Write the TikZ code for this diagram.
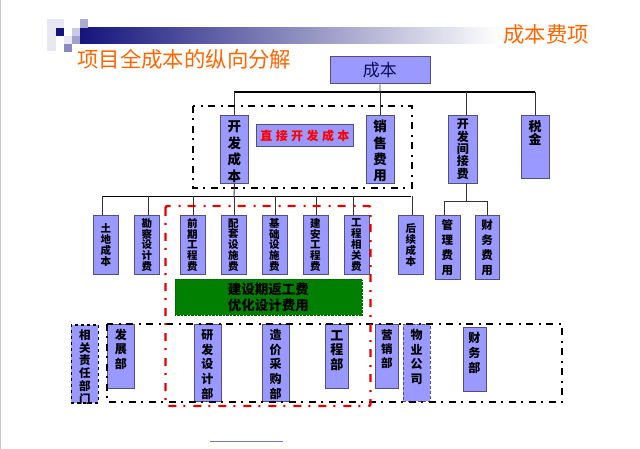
\documentclass[tikz,border=0pt]{standalone}
\usepackage{fontspec}
\setmainfont{Noto Sans CJK SC}
\usepackage{color}
\usepackage{tikz}
\definecolor{boxfill}{HTML}{9999FF}
\definecolor{boxline}{HTML}{50507A}
\definecolor{headnavy}{HTML}{14147C}
\definecolor{headorange}{HTML}{FF6600}
\definecolor{greenfill}{HTML}{007F00}
\tikzset{
  box/.style={rectangle,draw=boxline,fill=boxfill,line width=0.9pt,inner sep=0pt,align=center,anchor=north west,font=\bfseries},
  stack/.style 2 args={font=\bfseries\fontsize{#1}{#2}\selectfont},
  tall/.style 2 args={minimum height=#1,text height=#1-#2,text depth=#2},
  link/.style={black!80,line width=0.9pt},
  bus/.style={black,line width=1.1pt},
  blackframe/.style={black,line width=1.6pt,dash pattern=on 7pt off 5pt on 2pt off 6pt},
  redframe/.style={red!90!black,line width=2.4pt,dash pattern=on 8pt off 7pt on 2pt off 8pt},
  title/.style={headorange,inner sep=0pt,font=\fontsize{21.4}{24}\selectfont}
}

\begin{document}
\begin{tikzpicture}[x=1pt,y=-1pt]
  \useasboundingbox (0,0) rectangle (640,449);
  \fill[black!22] (0,0) rectangle (1.2,449);
  % header
  \shade[left color=headnavy,right color=white] (80,27.3) rectangle (500,43.7);
  \fill[headnavy!10] (47,19) rectangle (55.7,51);
  \fill[headnavy!10] (55.7,19) rectangle (64,27.7);
  \fill[headnavy] (55.7,27.7) rectangle (64,36);
  \fill[headnavy!10] (64,36) rectangle (72,44);
  \fill[headnavy!22] (72,27.7) rectangle (80,36);
  \fill[headnavy!35] (80,19) rectangle (88,27.7);
  \fill[headnavy!40] (72,36) rectangle (80,44);
  \fill[headnavy!50] (64,44) rectangle (72,52);
  \node[title,anchor=west] (pagetitle) at (77,59) {项目全成本的纵向分解};
  \node[title,anchor=west] (sidetitle) at (503,34) {成本费项};

  % top row
  \node[box,minimum width=100pt,minimum height=27.5pt,font=\fontsize{17}{20}\selectfont,text=headnavy!70!black] (cost) at (329.5,56) {成本};
  \node[box,stack={13.5}{16.6},minimum width=28pt,tall={68pt}{2pt}] (devcost) at (220,115) {开\\发\\成\\本};
  \node[box,stack={13.5}{16.2},minimum width=27.5pt,tall={68pt}{3pt}] (sales) at (366,115) {销\\售\\费\\用};
  \node[box,stack={12}{12.3},minimum width=29pt,tall={68pt}{5.3pt}] (indirect) at (448,115) {开\\发\\间\\接\\费};
  \node[box,stack={13}{13.6},minimum width=27.5pt,tall={63pt}{33.7pt}] (tax) at (521,115) {税\\金};
  \node[box,minimum width=97pt,minimum height=22pt,text=red,font=\bfseries\fontsize{12}{13}\selectfont] (direct) at (256,124) {直\hspace{3.4pt}接\hspace{3.4pt}开\hspace{3.4pt}发\hspace{3.4pt}成\hspace{3.4pt}本};
  \coordinate (topbus) at (380,92);
  \coordinate (indirecttop) at (466,115);
  \draw[bus] (topbus -| devcost.north) -- (topbus -| tax.north);
  \draw[link] (cost.south) -- (topbus);
  \draw[link] (devcost.north) -- (topbus -| devcost.north);
  \draw[link] (sales.north) -- (topbus -| sales.north);
  \draw[link] (indirecttop) -- (topbus -| indirecttop);
  \draw[link] (tax.north) -- (topbus -| tax.north);
  \draw[blackframe,line width=1.1pt] (193,106) rectangle (412,188);

  % second row
  \node[box,stack={10.5}{10.8},minimum width=25pt,minimum height=59pt] (land) at (93,215) {土\\地\\成\\本};
  \node[box,stack={10.5}{10.8},minimum width=25pt,minimum height=59pt] (survey) at (134,215) {勘\\察\\设\\计\\费};
  \node[box,stack={10.5}{10.8},minimum width=25pt,minimum height=59pt] (early) at (179.5,215) {前\\期\\工\\程\\费};
  \node[box,stack={10.5}{10.8},minimum width=25pt,minimum height=59pt] (match) at (220.5,215) {配\\套\\设\\施\\费};
  \node[box,stack={10.5}{10.8},minimum width=25pt,minimum height=59pt] (base) at (261.5,215) {基\\础\\设\\施\\费};
  \node[box,stack={10.5}{10.8},minimum width=25pt,minimum height=59pt] (build) at (302.5,215) {建\\安\\工\\程\\费};
  \node[box,stack={10.5}{10.8},minimum width=25pt,minimum height=59pt] (related) at (343.5,215) {工\\程\\相\\关\\费};
  \node[box,stack={10.5}{10.8},minimum width=25pt,minimum height=59pt] (later) at (398,215) {后\\续\\成\\本};
  \node[box,stack={11.5}{15},minimum width=25pt,minimum height=64pt] (manage) at (434.5,215) {管\\理\\费\\用};
  \node[box,stack={11.5}{15},minimum width=23.5pt,minimum height=64pt] (finance) at (475,215) {财\\务\\费\\用};
  \coordinate (midbus) at (234,196.5);
  \draw[bus,line width=1.8pt] ([xshift=-3.5pt]midbus -| land.north) -- (midbus -| later.north);
  \draw[link] (devcost.south) -- (midbus);
  \foreach \n in {survey,early,match,base,build,later}
    \draw[link] (\n.north) ++(1,0) -- ++(0,-18.5);
  \draw[link] (land.north) ++(-3.5,0) -- ++(0,-18.5);
  \draw[link] (related.north) ++(-3.5,0) -- ++(0,-18.5);
  \coordinate (sidebus) at (466,201.5);
  \coordinate (indirectfoot) at (466,183);
  \draw[link] (indirectfoot) -- (sidebus);
  \draw[link] ([xshift=-3.5pt]manage.north) |- (sidebus) -| (finance.north);

  % green band
  \node[rectangle,draw=green!40!black,densely dotted,fill=greenfill,inner sep=0pt,anchor=north west,minimum width=186.5pt,minimum height=36pt,align=center,font=\bfseries\fontsize{13.5}{16}\selectfont] (rework) at (175,279) {建设期返工费\\优化设计费用};

  % departments
  \node[box,stack={11.5}{12.8},minimum width=27pt,tall={77pt}{-1.4pt},draw=black,line width=1.7pt,dashed] (depts) at (70.5,324) {相\\关\\责\\任\\部\\门};
  \node[box,stack={12}{14.5},minimum width=27pt,tall={64pt}{20.4pt}] (devdept) at (107,324) {发\\展\\部};
  \node[box,stack={12}{14.6},minimum width=27pt,tall={77pt}{3.4pt}] (design) at (193.5,324) {研\\发\\设\\计\\部};
  \node[box,stack={12}{14.6},minimum width=26.5pt,tall={77pt}{3.4pt}] (purchase) at (262,324) {造\\价\\采\\购\\部};
  \node[box,stack={13}{14.6},minimum width=23pt,tall={64pt}{19pt}] (engineer) at (325,324) {工\\程\\部};
  \node[box,stack={11.5}{14.2},minimum width=23pt,tall={64pt}{20.6pt}] (market) at (375,324) {营\\销\\部};
  \node[box,stack={12}{14.4},minimum width=27.5pt,tall={77pt}{18.4pt},densely dashed] (property) at (402.5,324) {物\\业\\公\\司};
  \node[box,stack={12}{14.6},minimum width=23pt,tall={64pt}{19.4pt}] (financedept) at (462.5,327) {财\\务\\部};
  \draw[blackframe] (107,324) rectangle (562,402);
  \draw[redframe,rounded corners=2pt] (165.5,206) rectangle (370.5,406);

  \coordinate (footleft) at (210,441);
  \coordinate (footright) at (283,441);
  \draw[boxfill!80!black,line width=1pt] (footleft) -- (footright);
\end{tikzpicture}
\end{document}
